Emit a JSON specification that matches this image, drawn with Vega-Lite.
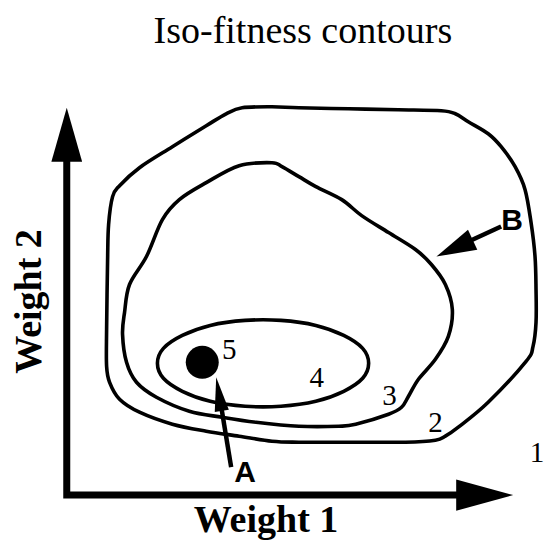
{
  "$schema": "https://vega.github.io/schema/vega-lite/v6.json",
  "width": 545,
  "height": 540,
  "autosize": {"type": "fit", "contains": "padding"},
  "padding": 0,
  "background": "white",
  "config": {"view": {"stroke": null}},
  "datasets": {
    "contours": [
      {"c": "2", "i": 0, "x": 107, "y": 330}, {"c": "2", "i": 1, "x": 108, "y": 260}, {"c": "2", "i": 2, "x": 109, "y": 225},
      {"c": "2", "i": 3, "x": 113, "y": 197}, {"c": "2", "i": 4, "x": 120, "y": 186}, {"c": "2", "i": 5, "x": 140, "y": 168},
      {"c": "2", "i": 6, "x": 173, "y": 147}, {"c": "2", "i": 7, "x": 207, "y": 126}, {"c": "2", "i": 8, "x": 227, "y": 114},
      {"c": "2", "i": 9, "x": 243, "y": 108}, {"c": "2", "i": 10, "x": 273, "y": 107}, {"c": "2", "i": 11, "x": 300, "y": 108},
      {"c": "2", "i": 12, "x": 350, "y": 109}, {"c": "2", "i": 13, "x": 400, "y": 110}, {"c": "2", "i": 14, "x": 443, "y": 111},
      {"c": "2", "i": 15, "x": 457, "y": 114}, {"c": "2", "i": 16, "x": 470, "y": 122}, {"c": "2", "i": 17, "x": 490, "y": 134},
      {"c": "2", "i": 18, "x": 503, "y": 147}, {"c": "2", "i": 19, "x": 517, "y": 167}, {"c": "2", "i": 20, "x": 527, "y": 190},
      {"c": "2", "i": 21, "x": 533, "y": 223}, {"c": "2", "i": 22, "x": 537, "y": 257}, {"c": "2", "i": 23, "x": 538, "y": 290},
      {"c": "2", "i": 24, "x": 538, "y": 323}, {"c": "2", "i": 25, "x": 535, "y": 347}, {"c": "2", "i": 26, "x": 528, "y": 362},
      {"c": "2", "i": 27, "x": 490, "y": 403}, {"c": "2", "i": 28, "x": 460, "y": 428}, {"c": "2", "i": 29, "x": 447, "y": 437},
      {"c": "2", "i": 30, "x": 437, "y": 441}, {"c": "2", "i": 31, "x": 407, "y": 443}, {"c": "2", "i": 32, "x": 350, "y": 443},
      {"c": "2", "i": 33, "x": 300, "y": 443}, {"c": "2", "i": 34, "x": 273, "y": 442}, {"c": "2", "i": 35, "x": 240, "y": 437},
      {"c": "2", "i": 36, "x": 207, "y": 432}, {"c": "2", "i": 37, "x": 173, "y": 425}, {"c": "2", "i": 38, "x": 140, "y": 413},
      {"c": "2", "i": 39, "x": 120, "y": 400}, {"c": "2", "i": 40, "x": 110, "y": 383}, {"c": "2", "i": 41, "x": 107, "y": 367},
      {"c": "3", "i": 0, "x": 125, "y": 313}, {"c": "3", "i": 1, "x": 130, "y": 285}, {"c": "3", "i": 2, "x": 147, "y": 257},
      {"c": "3", "i": 3, "x": 163, "y": 220}, {"c": "3", "i": 4, "x": 180, "y": 200}, {"c": "3", "i": 5, "x": 207, "y": 183},
      {"c": "3", "i": 6, "x": 240, "y": 166}, {"c": "3", "i": 7, "x": 273, "y": 163}, {"c": "3", "i": 8, "x": 283, "y": 167},
      {"c": "3", "i": 9, "x": 300, "y": 177}, {"c": "3", "i": 10, "x": 317, "y": 187}, {"c": "3", "i": 11, "x": 343, "y": 200},
      {"c": "3", "i": 12, "x": 363, "y": 216}, {"c": "3", "i": 13, "x": 390, "y": 233}, {"c": "3", "i": 14, "x": 417, "y": 250},
      {"c": "3", "i": 15, "x": 433, "y": 265}, {"c": "3", "i": 16, "x": 447, "y": 285}, {"c": "3", "i": 17, "x": 454, "y": 310},
      {"c": "3", "i": 18, "x": 450, "y": 337}, {"c": "3", "i": 19, "x": 437, "y": 360}, {"c": "3", "i": 20, "x": 420, "y": 380},
      {"c": "3", "i": 21, "x": 410, "y": 397}, {"c": "3", "i": 22, "x": 403, "y": 408}, {"c": "3", "i": 23, "x": 390, "y": 415},
      {"c": "3", "i": 24, "x": 357, "y": 425}, {"c": "3", "i": 25, "x": 340, "y": 427}, {"c": "3", "i": 26, "x": 300, "y": 427},
      {"c": "3", "i": 27, "x": 257, "y": 423}, {"c": "3", "i": 28, "x": 223, "y": 418}, {"c": "3", "i": 29, "x": 190, "y": 412},
      {"c": "3", "i": 30, "x": 157, "y": 398}, {"c": "3", "i": 31, "x": 137, "y": 383}, {"c": "3", "i": 32, "x": 127, "y": 363},
      {"c": "3", "i": 33, "x": 123, "y": 335},
      {"c": "4", "i": 0, "x": 370, "y": 364}, {"c": "4", "i": 1, "x": 364, "y": 349}, {"c": "4", "i": 2, "x": 345, "y": 336},
      {"c": "4", "i": 3, "x": 317, "y": 326}, {"c": "4", "i": 4, "x": 282, "y": 321}, {"c": "4", "i": 5, "x": 246, "y": 321},
      {"c": "4", "i": 6, "x": 211, "y": 326}, {"c": "4", "i": 7, "x": 183, "y": 336}, {"c": "4", "i": 8, "x": 164, "y": 349},
      {"c": "4", "i": 9, "x": 158, "y": 364}, {"c": "4", "i": 10, "x": 164, "y": 379}, {"c": "4", "i": 11, "x": 183, "y": 392},
      {"c": "4", "i": 12, "x": 211, "y": 402}, {"c": "4", "i": 13, "x": 246, "y": 407}, {"c": "4", "i": 14, "x": 282, "y": 407},
      {"c": "4", "i": 15, "x": 317, "y": 402}, {"c": "4", "i": 16, "x": 345, "y": 392}, {"c": "4", "i": 17, "x": 364, "y": 379}
    ],
    "axes": [
      {"i": 0, "x": 67, "y": 160},
      {"i": 1, "x": 67, "y": 496},
      {"i": 2, "x": 462, "y": 496}
    ],
    "pointers": [
      {"p": "A", "i": 0, "x": 232, "y": 468},
      {"p": "A", "i": 1, "x": 220, "y": 395},
      {"p": "B", "i": 0, "x": 503, "y": 227},
      {"p": "B", "i": 1, "x": 455, "y": 249}
    ],
    "heads": [
      {"h": "Weight 2 axis", "x": 67, "y": 135},
      {"h": "Weight 1 axis", "x": 486.5, "y": 496},
      {"h": "A", "x": 219.8, "y": 394.8},
      {"h": "B", "x": 456.2, "y": 248.6}
    ],
    "optimum": [{"name": "5", "x": 203, "y": 363}],
    "labels": [
      {"t": "Iso-fitness contours", "role": "title", "x": 304, "y": 43},
      {"t": "Weight 1", "role": "xaxis", "x": 267, "y": 533},
      {"t": "Weight 2", "role": "yaxis", "x": 41, "y": 302},
      {"t": "5", "role": "level", "x": 230, "y": 360},
      {"t": "4", "role": "level", "x": 318, "y": 388},
      {"t": "3", "role": "level", "x": 391, "y": 406},
      {"t": "2", "role": "level", "x": 437, "y": 433},
      {"t": "1", "role": "level", "x": 539, "y": 463},
      {"t": "A", "role": "pointer", "x": 246, "y": 483},
      {"t": "B", "role": "pointer", "x": 514, "y": 230}
    ]
  },
  "encoding": {
    "x": {"field": "x", "type": "quantitative", "scale": {"domain": [0, 545], "nice": false, "zero": false}, "axis": null},
    "y": {"field": "y", "type": "quantitative", "scale": {"domain": [0, 540], "nice": false, "zero": false, "reverse": true}, "axis": null}
  },
  "layer": [
    {
      "data": {"name": "contours"},
      "mark": {"type": "line", "interpolate": "cardinal-closed", "color": "black", "strokeWidth": 3.6},
      "encoding": {
        "detail": {"field": "c", "type": "nominal"},
        "order": {"field": "i", "type": "quantitative"}
      }
    },
    {
      "data": {"name": "axes"},
      "mark": {"type": "line", "color": "black", "strokeWidth": 7, "strokeJoin": "miter", "strokeCap": "square"},
      "encoding": {"order": {"field": "i", "type": "quantitative"}}
    },
    {
      "data": {"name": "pointers"},
      "mark": {"type": "line", "color": "black", "strokeWidth": 4.5},
      "encoding": {
        "detail": {"field": "p", "type": "nominal"},
        "order": {"field": "i", "type": "quantitative"}
      }
    },
    {
      "data": {"name": "heads"},
      "transform": [{"filter": "datum.h === 'Weight 2 axis'"}],
      "mark": {"type": "point", "shape": "M0,-1L0.57,1L-0.57,1Z", "size": 2916, "angle": 0, "filled": true, "color": "black", "opacity": 1, "strokeWidth": 0}
    },
    {
      "data": {"name": "heads"},
      "transform": [{"filter": "datum.h === 'Weight 1 axis'"}],
      "mark": {"type": "point", "shape": "M0,-1L0.55,1L-0.55,1Z", "size": 3249, "angle": 90, "filled": true, "color": "black", "opacity": 1, "strokeWidth": 0}
    },
    {
      "data": {"name": "heads"},
      "transform": [{"filter": "datum.h === 'A'"}],
      "mark": {"type": "point", "shape": "M0,-1L0.42,1L-0.42,1Z", "size": 1156, "angle": 350.5, "filled": true, "color": "black", "opacity": 1, "strokeWidth": 0}
    },
    {
      "data": {"name": "heads"},
      "transform": [{"filter": "datum.h === 'B'"}],
      "mark": {"type": "point", "shape": "M0,-1L0.55,1L-0.55,1Z", "size": 1600, "angle": 245, "filled": true, "color": "black", "opacity": 1, "strokeWidth": 0}
    },
    {
      "data": {"name": "optimum"},
      "mark": {"type": "point", "shape": "circle", "size": 1089, "filled": true, "color": "black", "opacity": 1, "strokeWidth": 0}
    },
    {
      "data": {"name": "labels"},
      "transform": [{"filter": "datum.role === 'title'"}],
      "mark": {"type": "text", "font": "Liberation Serif", "fontSize": 38, "align": "center", "baseline": "alphabetic", "color": "black"},
      "encoding": {"text": {"field": "t", "type": "nominal"}}
    },
    {
      "data": {"name": "labels"},
      "transform": [{"filter": "datum.role === 'xaxis'"}],
      "mark": {"type": "text", "font": "Liberation Serif", "fontSize": 38, "fontWeight": "bold", "align": "center", "baseline": "alphabetic", "color": "black"},
      "encoding": {"text": {"field": "t", "type": "nominal"}}
    },
    {
      "data": {"name": "labels"},
      "transform": [{"filter": "datum.role === 'yaxis'"}],
      "mark": {"type": "text", "font": "Liberation Serif", "fontSize": 38, "fontWeight": "bold", "align": "center", "baseline": "alphabetic", "angle": 270, "color": "black"},
      "encoding": {"text": {"field": "t", "type": "nominal"}}
    },
    {
      "data": {"name": "labels"},
      "transform": [{"filter": "datum.role === 'level'"}],
      "mark": {"type": "text", "font": "Liberation Serif", "fontSize": 29, "align": "center", "baseline": "alphabetic", "color": "black"},
      "encoding": {"text": {"field": "t", "type": "nominal"}}
    },
    {
      "data": {"name": "labels"},
      "transform": [{"filter": "datum.role === 'pointer'"}],
      "mark": {"type": "text", "font": "Liberation Sans", "fontSize": 30, "fontWeight": "bold", "align": "center", "baseline": "alphabetic", "color": "black"},
      "encoding": {"text": {"field": "t", "type": "nominal"}}
    }
  ]
}
